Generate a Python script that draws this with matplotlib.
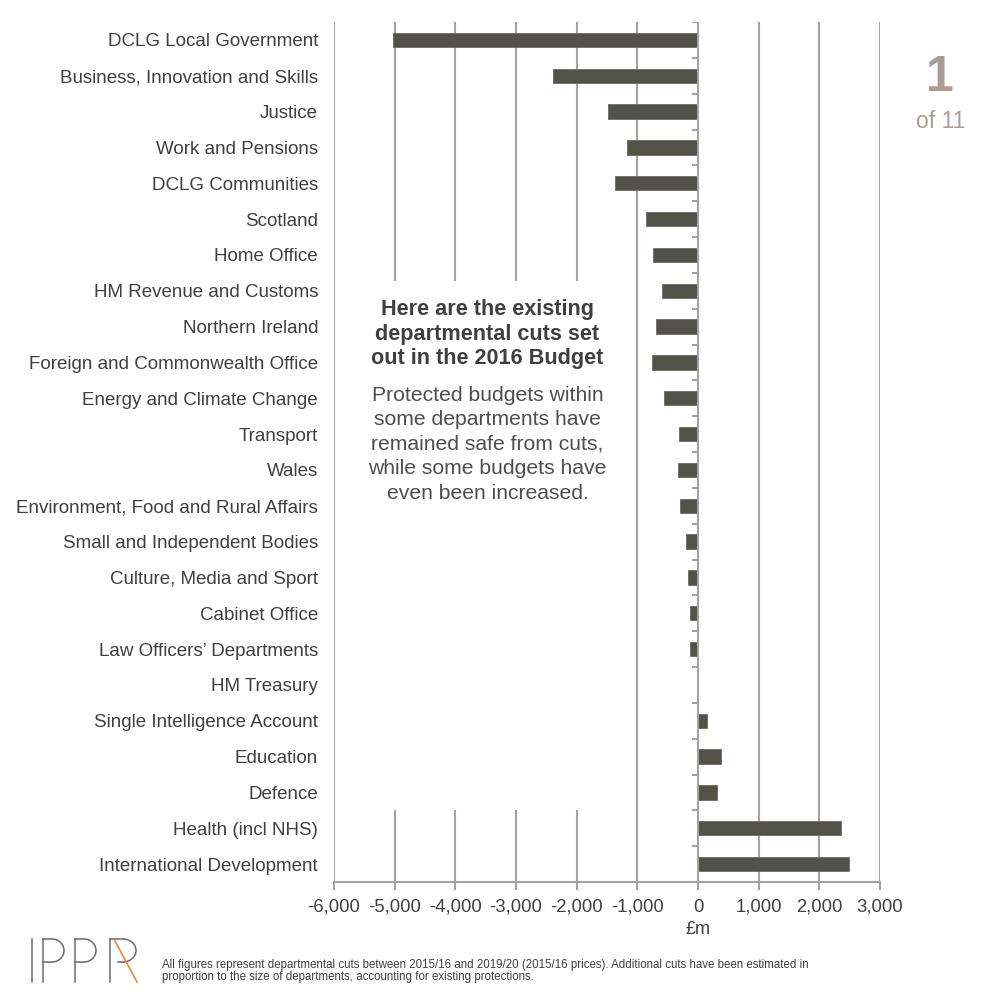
import matplotlib.pyplot as plt
from matplotlib.patches import Rectangle, Arc
from matplotlib.lines import Line2D
import numpy as np

plt.rcParams['font.family'] = ['Liberation Sans', 'DejaVu Sans']

departments = [
    "DCLG Local Government", "Business, Innovation and Skills", "Justice",
    "Work and Pensions", "DCLG Communities", "Scotland", "Home Office",
    "HM Revenue and Customs", "Northern Ireland",
    "Foreign and Commonwealth Office", "Energy and Climate Change",
    "Transport", "Wales", "Environment, Food and Rural Affairs",
    "Small and Independent Bodies", "Culture, Media and Sport",
    "Cabinet Office", "Law Officers\u2019 Departments", "HM Treasury",
    "Single Intelligence Account", "Education", "Defence",
    "Health (incl NHS)", "International Development",
]
cuts = [
    -5030, -2395, -1490, -1165, -1370, -860, -740, -590, -690, -765,
    -555, -320, -325, -290, -200, -165, -135, -130, 0,
    155, 385, 320, 2355, 2490,
]
x_ticks = [-6000, -5000, -4000, -3000, -2000, -1000, 0, 1000, 2000, 3000]
x_labels = ["-6,000", "-5,000", "-4,000", "-3,000", "-2,000", "-1,000",
            "0", "1,000", "2,000", "3,000"]

bar_col = "#535249"
grid_col = "#a3a3a3"
text_col = "#3f3f3f"
taupe = "#a89c94"

fig = plt.figure(figsize=(10, 10), dpi=100)
ax = fig.add_axes([0.334, 0.118, 0.546, 0.860])

y = np.arange(len(departments))
ax.barh(y, cuts, height=0.4, color=bar_col, edgecolor="#6a6a62",
        linewidth=0.6, zorder=3)

ax.set_xlim(-6000, 3000)
ax.set_ylim(len(departments) - 0.5, -0.5)

# vertical gridlines
for xv in x_ticks:
    if xv != 0:
        ax.axvline(xv, color=grid_col, lw=1.5, zorder=1)

# white panel behind the note (gridlines interrupted)
ax.add_patch(Rectangle((-5900, 6.73), 4800, 14.77, facecolor="white",
                       edgecolor="none", zorder=2))

# zero axis with category separator ticks
ax.axvline(0, color=grid_col, lw=1.5, zorder=4)
for b in np.arange(-0.5, len(departments), 1.0):
    ax.plot([-100, 0], [b, b], color=grid_col, lw=1.5, zorder=4,
            solid_capstyle="butt")

for s in ["left", "right", "top"]:
    ax.spines[s].set_visible(False)
ax.spines["bottom"].set_color(grid_col)
ax.spines["bottom"].set_linewidth(1.5)

ax.set_xticks(x_ticks)
ax.set_xticklabels(x_labels)
ax.tick_params(axis="x", length=6, width=1.5, color=grid_col,
               labelsize=13.3, labelcolor=text_col, pad=6)
ax.set_yticks(y)
ax.set_yticklabels(departments)
ax.tick_params(axis="y", length=0, labelsize=13.5, labelcolor=text_col,
               pad=11.5)

fig.text(0.6985, 0.071, "\u00a3m", ha="center", va="center",
         fontsize=13, color=text_col)

# note inside chart
ax.text(-3470, 8.21, "Here are the existing\ndepartmental cuts set\nout in the 2016 Budget",
        ha="center", va="center", fontsize=15.6, fontweight="bold",
        color=text_col, linespacing=1.2, zorder=5)
ax.text(-3470, 11.28, "Protected budgets within\nsome departments have\nremained safe from cuts,\nwhile some budgets have\neven been increased.",
        ha="center", va="center", fontsize=15.2, color="#4e4e4e",
        linespacing=1.37, zorder=5)

# page counter
fig.text(0.940, 0.922, "1", ha="center", va="center", fontsize=36,
         fontweight="bold", color=taupe)
fig.text(0.941, 0.878, "of 11", ha="center", va="center", fontsize=16.5,
         color=taupe)

# footnote
fig.text(0.162, 0.029,
         "All figures represent departmental cuts between 2015/16 and 2019/20 (2015/16 prices). Additional cuts have been estimated in\nproportion to the size of departments, accounting for existing protections.",
         ha="left", va="center", fontsize=8.3, color=text_col,
         family=["Liberation Sans Narrow", "Liberation Sans"],
         linespacing=1.1)

# IPPR logo drawn in pixel coordinates
lax = fig.add_axes([0, 0, 1, 1], zorder=10)
lax.set_xlim(0, 1000)
lax.set_ylim(1000, 0)
lax.axis("off")
lc = "#6b6b6b"
top, bot, mid = 939, 982, 962
lax.add_line(Line2D([32, 32], [top, bot], color=lc, lw=1.1))
for x0 in [43, 75]:
    lax.add_line(Line2D([x0, x0], [top, bot], color=lc, lw=1.1))
    lax.add_line(Line2D([x0, x0 + 9], [top, top], color=lc, lw=1.1))
    lax.add_line(Line2D([x0, x0 + 9], [mid, mid], color=lc, lw=1.1))
    lax.add_patch(Arc((x0 + 9, (top + mid) / 2), 24, mid - top,
                      theta1=-90, theta2=90, color=lc, lw=1.1))
x0 = 110
lax.add_line(Line2D([x0, x0], [top, bot], color=lc, lw=1.1))
lax.add_line(Line2D([x0, x0 + 13], [top, top], color=lc, lw=1.1))
lax.add_line(Line2D([x0 + 8, x0 + 13], [mid, mid], color=lc, lw=1.1))
lax.add_patch(Arc((x0 + 13, (top + mid) / 2), 26, mid - top,
                  theta1=-90, theta2=90, color=lc, lw=1.1))
lax.add_line(Line2D([115, 137], [top + 2, bot], color="#e8873a", lw=1.2))

fig.savefig("out.png", dpi=100, facecolor="white")
